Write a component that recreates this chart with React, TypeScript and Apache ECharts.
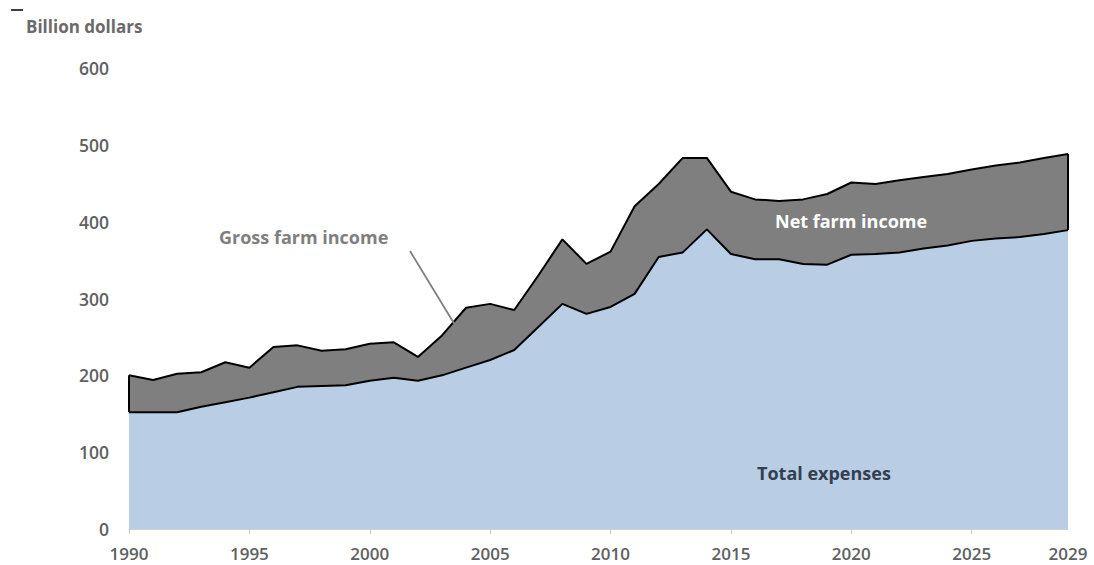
import React, { useEffect, useRef } from "react";
import * as echarts from "echarts";

const years: string[] = [
  "1990","1991","1992","1993","1994","1995","1996","1997","1998","1999",
  "2000","2001","2002","2003","2004","2005","2006","2007","2008","2009",
  "2010","2011","2012","2013","2014","2015","2016","2017","2018","2019",
  "2020","2021","2022","2023","2024","2025","2026","2027","2028","2029",
];

const grossFarmIncome: number[] = [
  200, 194, 202, 204, 217, 210, 237, 239, 232, 234,
  241, 243, 224, 252, 288, 293, 285, 330, 377, 345,
  361, 420, 449, 483, 483, 439, 429, 427, 429, 436,
  451, 449, 454, 458, 462, 468, 473, 477, 483, 488,
];

const totalExpenses: number[] = [
  152, 152, 152, 159, 165, 171, 178, 185, 186, 187,
  193, 197, 193, 200, 210, 220, 233, 263, 293, 280,
  289, 306, 354, 360, 390, 358, 351, 351, 345, 344,
  357, 358, 360, 365, 369, 375, 378, 380, 384, 389,
];

const yTicks: number[] = [0, 100, 200, 300, 400, 500, 600];

const FONT = "'Open Sans', 'Noto Sans', sans-serif";

export default function App() {
  const ref = useRef<HTMLDivElement>(null);

  useEffect(() => {
    if (!ref.current) return;
    const chart = echarts.init(ref.current, null, { renderer: "svg" });
    const last = years.length - 1;
    chart.setOption({
      animation: false,
      backgroundColor: "#ffffff",
      grid: { left: 129, right: 26, top: 68, bottom: 36, containLabel: false },
      xAxis: {
        type: "category",
        data: years,
        boundaryGap: false,
        axisLine: { show: true, lineStyle: { color: "#d0d0d0", width: 1 } },
        axisTick: {
          show: true,
          length: 5,
          lineStyle: { color: "#c8c8c8" },
          interval: (i: number, v: string) => Number(v) % 5 === 0,
        },
        axisLabel: {
          interval: (i: number, v: string) => Number(v) % 5 === 0 || i === last,
          color: "#606060",
          fontFamily: FONT,
          fontSize: 17,
          fontWeight: 600,
          margin: 16,
        },
        splitLine: { show: false },
      },
      yAxis: {
        type: "value",
        min: yTicks[0],
        max: yTicks[yTicks.length - 1],
        interval: 100,
        axisLine: { show: false },
        axisTick: { show: false },
        splitLine: { show: false },
        axisLabel: {
          color: "#606060",
          fontFamily: FONT,
          fontSize: 17.5,
          fontWeight: 600,
          margin: 20,
        },
      },
      series: [
        {
          name: "Gross farm income",
          type: "line",
          data: grossFarmIncome,
          symbol: "none",
          lineStyle: { color: "#000000", width: 2 },
          areaStyle: { color: "#7f7f7f", opacity: 1 },
          z: 2,
          markLine: {
            silent: true,
            symbol: "none",
            label: { show: false },
            lineStyle: { color: "#000000", width: 2, type: "solid" },
            data: [
              [
                { coord: [years[0], totalExpenses[0]] },
                { coord: [years[0], grossFarmIncome[0]] },
              ],
              [
                { coord: [years[last], totalExpenses[last]] },
                { coord: [years[last], grossFarmIncome[last]] },
              ],
            ],
          },
        },
        {
          name: "Total expenses",
          type: "line",
          data: totalExpenses,
          symbol: "none",
          lineStyle: { color: "#000000", width: 2 },
          areaStyle: { color: "#b9cde5", opacity: 1 },
          z: 3,
        },
      ],
      graphic: [
        {
          type: "line",
          shape: { x1: 11, y1: 10, x2: 23, y2: 10 },
          style: { stroke: "#000000", lineWidth: 1.5 },
        },
        {
          type: "text",
          x: 26,
          y: 26,
          style: {
            text: "Billion dollars",
            fill: "#6a6a6a",
            font: `bold 17px ${FONT}`,
            verticalAlign: "middle",
            align: "left",
          },
        },
        {
          type: "text",
          x: 219,
          y: 237,
          style: {
            text: "Gross farm income",
            fill: "#7f7f7f",
            font: `bold 18px ${FONT}`,
            verticalAlign: "middle",
            align: "left",
          },
        },
        {
          type: "line",
          shape: { x1: 410, y1: 251, x2: 455, y2: 325 },
          style: { stroke: "#808080", lineWidth: 1.8 },
          z: 10,
        },
        {
          type: "text",
          x: 775,
          y: 221,
          z: 10,
          style: {
            text: "Net farm income",
            fill: "#ffffff",
            font: `bold 18px ${FONT}`,
            verticalAlign: "middle",
            align: "left",
          },
        },
        {
          type: "text",
          x: 757,
          y: 473,
          z: 10,
          style: {
            text: "Total expenses",
            fill: "#333f50",
            font: `bold 18px ${FONT}`,
            verticalAlign: "middle",
            align: "left",
          },
        },
      ],
    });
    return () => chart.dispose();
  }, []);

  return (
    <div
      ref={ref}
      style={{ position: "fixed", left: 0, top: 0, width: 1094, height: 565 }}
    />
  );
}
